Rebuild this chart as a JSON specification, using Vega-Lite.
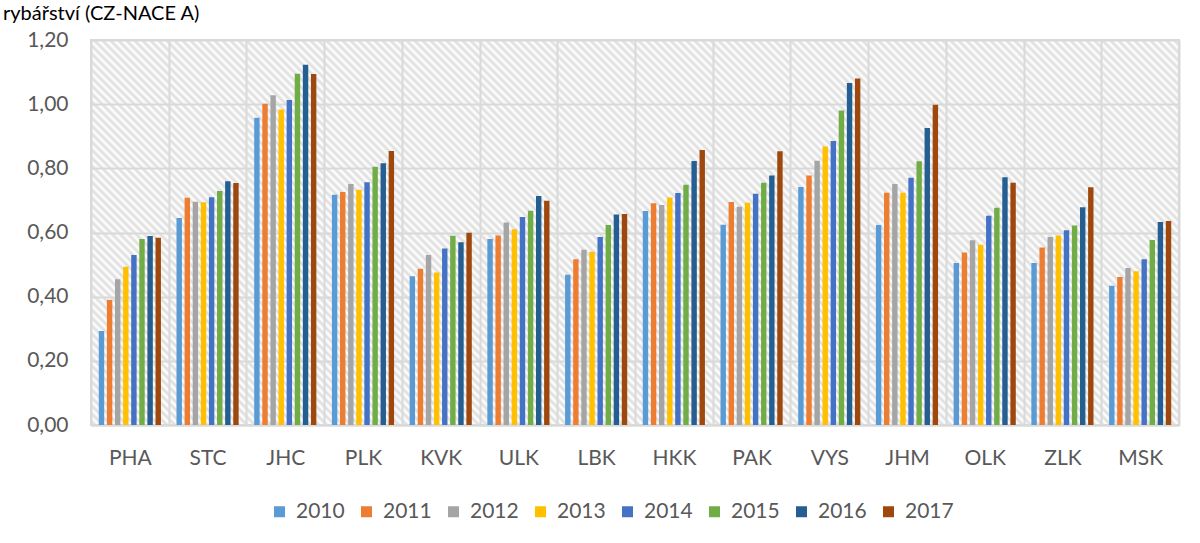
{
"$schema": "https://vega.github.io/schema/vega-lite/v6.json",
"width": 1088,
"height": 385,
"autosize": {"type": "none"},
"padding": {"left": 91, "top": 40, "right": 21, "bottom": 118},
"background": "white",
"title": {"text": "rybářství (CZ-NACE A)", "anchor": "start", "frame": "group", "orient": "top", "offset": -11, "dx": -88, "baseline": "alphabetic", "font": "Lato", "fontSize": 20, "fontWeight": "normal", "color": "#000000"},
"config": {
"locale": {"number": {"decimal": ",", "thousands": " ", "grouping": [3], "currency": ["", " Kč"]}},
"font": "Lato",
"view": {"stroke": "#d9d9d9", "strokeWidth": 2, "fill": {"gradient": "linear", "x1": 0, "y1": 1, "x2": 1.30694, "y2": 0.53753, "stops": [
{"offset":0,"color":"#fff"},{"offset":0.0025,"color":"#ddd"},{"offset":0.005,"color":"#fff"},{"offset":0.0075,"color":"#ddd"},
{"offset":0.01,"color":"#fff"},{"offset":0.0125,"color":"#ddd"},{"offset":0.015,"color":"#fff"},{"offset":0.0175,"color":"#ddd"},
{"offset":0.02,"color":"#fff"},{"offset":0.0225,"color":"#ddd"},{"offset":0.025,"color":"#fff"},{"offset":0.0275,"color":"#ddd"},
{"offset":0.03,"color":"#fff"},{"offset":0.0325,"color":"#ddd"},{"offset":0.035,"color":"#fff"},{"offset":0.0375,"color":"#ddd"},
{"offset":0.04,"color":"#fff"},{"offset":0.0425,"color":"#ddd"},{"offset":0.045,"color":"#fff"},{"offset":0.0475,"color":"#ddd"},
{"offset":0.05,"color":"#fff"},{"offset":0.0525,"color":"#ddd"},{"offset":0.055,"color":"#fff"},{"offset":0.0575,"color":"#ddd"},
{"offset":0.06,"color":"#fff"},{"offset":0.0625,"color":"#ddd"},{"offset":0.065,"color":"#fff"},{"offset":0.0675,"color":"#ddd"},
{"offset":0.07,"color":"#fff"},{"offset":0.0725,"color":"#ddd"},{"offset":0.075,"color":"#fff"},{"offset":0.0775,"color":"#ddd"},
{"offset":0.08,"color":"#fff"},{"offset":0.0825,"color":"#ddd"},{"offset":0.085,"color":"#fff"},{"offset":0.0875,"color":"#ddd"},
{"offset":0.09,"color":"#fff"},{"offset":0.0925,"color":"#ddd"},{"offset":0.095,"color":"#fff"},{"offset":0.0975,"color":"#ddd"},
{"offset":0.10,"color":"#fff"},{"offset":0.1025,"color":"#ddd"},{"offset":0.105,"color":"#fff"},{"offset":0.1075,"color":"#ddd"},
{"offset":0.11,"color":"#fff"},{"offset":0.1125,"color":"#ddd"},{"offset":0.115,"color":"#fff"},{"offset":0.1175,"color":"#ddd"},
{"offset":0.12,"color":"#fff"},{"offset":0.1225,"color":"#ddd"},{"offset":0.125,"color":"#fff"},{"offset":0.1275,"color":"#ddd"},
{"offset":0.13,"color":"#fff"},{"offset":0.1325,"color":"#ddd"},{"offset":0.135,"color":"#fff"},{"offset":0.1375,"color":"#ddd"},
{"offset":0.14,"color":"#fff"},{"offset":0.1425,"color":"#ddd"},{"offset":0.145,"color":"#fff"},{"offset":0.1475,"color":"#ddd"},
{"offset":0.15,"color":"#fff"},{"offset":0.1525,"color":"#ddd"},{"offset":0.155,"color":"#fff"},{"offset":0.1575,"color":"#ddd"},
{"offset":0.16,"color":"#fff"},{"offset":0.1625,"color":"#ddd"},{"offset":0.165,"color":"#fff"},{"offset":0.1675,"color":"#ddd"},
{"offset":0.17,"color":"#fff"},{"offset":0.1725,"color":"#ddd"},{"offset":0.175,"color":"#fff"},{"offset":0.1775,"color":"#ddd"},
{"offset":0.18,"color":"#fff"},{"offset":0.1825,"color":"#ddd"},{"offset":0.185,"color":"#fff"},{"offset":0.1875,"color":"#ddd"},
{"offset":0.19,"color":"#fff"},{"offset":0.1925,"color":"#ddd"},{"offset":0.195,"color":"#fff"},{"offset":0.1975,"color":"#ddd"},
{"offset":0.20,"color":"#fff"},{"offset":0.2025,"color":"#ddd"},{"offset":0.205,"color":"#fff"},{"offset":0.2075,"color":"#ddd"},
{"offset":0.21,"color":"#fff"},{"offset":0.2125,"color":"#ddd"},{"offset":0.215,"color":"#fff"},{"offset":0.2175,"color":"#ddd"},
{"offset":0.22,"color":"#fff"},{"offset":0.2225,"color":"#ddd"},{"offset":0.225,"color":"#fff"},{"offset":0.2275,"color":"#ddd"},
{"offset":0.23,"color":"#fff"},{"offset":0.2325,"color":"#ddd"},{"offset":0.235,"color":"#fff"},{"offset":0.2375,"color":"#ddd"},
{"offset":0.24,"color":"#fff"},{"offset":0.2425,"color":"#ddd"},{"offset":0.245,"color":"#fff"},{"offset":0.2475,"color":"#ddd"},
{"offset":0.25,"color":"#fff"},{"offset":0.2525,"color":"#ddd"},{"offset":0.255,"color":"#fff"},{"offset":0.2575,"color":"#ddd"},
{"offset":0.26,"color":"#fff"},{"offset":0.2625,"color":"#ddd"},{"offset":0.265,"color":"#fff"},{"offset":0.2675,"color":"#ddd"},
{"offset":0.27,"color":"#fff"},{"offset":0.2725,"color":"#ddd"},{"offset":0.275,"color":"#fff"},{"offset":0.2775,"color":"#ddd"},
{"offset":0.28,"color":"#fff"},{"offset":0.2825,"color":"#ddd"},{"offset":0.285,"color":"#fff"},{"offset":0.2875,"color":"#ddd"},
{"offset":0.29,"color":"#fff"},{"offset":0.2925,"color":"#ddd"},{"offset":0.295,"color":"#fff"},{"offset":0.2975,"color":"#ddd"},
{"offset":0.30,"color":"#fff"},{"offset":0.3025,"color":"#ddd"},{"offset":0.305,"color":"#fff"},{"offset":0.3075,"color":"#ddd"},
{"offset":0.31,"color":"#fff"},{"offset":0.3125,"color":"#ddd"},{"offset":0.315,"color":"#fff"},{"offset":0.3175,"color":"#ddd"},
{"offset":0.32,"color":"#fff"},{"offset":0.3225,"color":"#ddd"},{"offset":0.325,"color":"#fff"},{"offset":0.3275,"color":"#ddd"},
{"offset":0.33,"color":"#fff"},{"offset":0.3325,"color":"#ddd"},{"offset":0.335,"color":"#fff"},{"offset":0.3375,"color":"#ddd"},
{"offset":0.34,"color":"#fff"},{"offset":0.3425,"color":"#ddd"},{"offset":0.345,"color":"#fff"},{"offset":0.3475,"color":"#ddd"},
{"offset":0.35,"color":"#fff"},{"offset":0.3525,"color":"#ddd"},{"offset":0.355,"color":"#fff"},{"offset":0.3575,"color":"#ddd"},
{"offset":0.36,"color":"#fff"},{"offset":0.3625,"color":"#ddd"},{"offset":0.365,"color":"#fff"},{"offset":0.3675,"color":"#ddd"},
{"offset":0.37,"color":"#fff"},{"offset":0.3725,"color":"#ddd"},{"offset":0.375,"color":"#fff"},{"offset":0.3775,"color":"#ddd"},
{"offset":0.38,"color":"#fff"},{"offset":0.3825,"color":"#ddd"},{"offset":0.385,"color":"#fff"},{"offset":0.3875,"color":"#ddd"},
{"offset":0.39,"color":"#fff"},{"offset":0.3925,"color":"#ddd"},{"offset":0.395,"color":"#fff"},{"offset":0.3975,"color":"#ddd"},
{"offset":0.40,"color":"#fff"},{"offset":0.4025,"color":"#ddd"},{"offset":0.405,"color":"#fff"},{"offset":0.4075,"color":"#ddd"},
{"offset":0.41,"color":"#fff"},{"offset":0.4125,"color":"#ddd"},{"offset":0.415,"color":"#fff"},{"offset":0.4175,"color":"#ddd"},
{"offset":0.42,"color":"#fff"},{"offset":0.4225,"color":"#ddd"},{"offset":0.425,"color":"#fff"},{"offset":0.4275,"color":"#ddd"},
{"offset":0.43,"color":"#fff"},{"offset":0.4325,"color":"#ddd"},{"offset":0.435,"color":"#fff"},{"offset":0.4375,"color":"#ddd"},
{"offset":0.44,"color":"#fff"},{"offset":0.4425,"color":"#ddd"},{"offset":0.445,"color":"#fff"},{"offset":0.4475,"color":"#ddd"},
{"offset":0.45,"color":"#fff"},{"offset":0.4525,"color":"#ddd"},{"offset":0.455,"color":"#fff"},{"offset":0.4575,"color":"#ddd"},
{"offset":0.46,"color":"#fff"},{"offset":0.4625,"color":"#ddd"},{"offset":0.465,"color":"#fff"},{"offset":0.4675,"color":"#ddd"},
{"offset":0.47,"color":"#fff"},{"offset":0.4725,"color":"#ddd"},{"offset":0.475,"color":"#fff"},{"offset":0.4775,"color":"#ddd"},
{"offset":0.48,"color":"#fff"},{"offset":0.4825,"color":"#ddd"},{"offset":0.485,"color":"#fff"},{"offset":0.4875,"color":"#ddd"},
{"offset":0.49,"color":"#fff"},{"offset":0.4925,"color":"#ddd"},{"offset":0.495,"color":"#fff"},{"offset":0.4975,"color":"#ddd"},
{"offset":0.50,"color":"#fff"},{"offset":0.5025,"color":"#ddd"},{"offset":0.505,"color":"#fff"},{"offset":0.5075,"color":"#ddd"},
{"offset":0.51,"color":"#fff"},{"offset":0.5125,"color":"#ddd"},{"offset":0.515,"color":"#fff"},{"offset":0.5175,"color":"#ddd"},
{"offset":0.52,"color":"#fff"},{"offset":0.5225,"color":"#ddd"},{"offset":0.525,"color":"#fff"},{"offset":0.5275,"color":"#ddd"},
{"offset":0.53,"color":"#fff"},{"offset":0.5325,"color":"#ddd"},{"offset":0.535,"color":"#fff"},{"offset":0.5375,"color":"#ddd"},
{"offset":0.54,"color":"#fff"},{"offset":0.5425,"color":"#ddd"},{"offset":0.545,"color":"#fff"},{"offset":0.5475,"color":"#ddd"},
{"offset":0.55,"color":"#fff"},{"offset":0.5525,"color":"#ddd"},{"offset":0.555,"color":"#fff"},{"offset":0.5575,"color":"#ddd"},
{"offset":0.56,"color":"#fff"},{"offset":0.5625,"color":"#ddd"},{"offset":0.565,"color":"#fff"},{"offset":0.5675,"color":"#ddd"},
{"offset":0.57,"color":"#fff"},{"offset":0.5725,"color":"#ddd"},{"offset":0.575,"color":"#fff"},{"offset":0.5775,"color":"#ddd"},
{"offset":0.58,"color":"#fff"},{"offset":0.5825,"color":"#ddd"},{"offset":0.585,"color":"#fff"},{"offset":0.5875,"color":"#ddd"},
{"offset":0.59,"color":"#fff"},{"offset":0.5925,"color":"#ddd"},{"offset":0.595,"color":"#fff"},{"offset":0.5975,"color":"#ddd"},
{"offset":0.60,"color":"#fff"},{"offset":0.6025,"color":"#ddd"},{"offset":0.605,"color":"#fff"},{"offset":0.6075,"color":"#ddd"},
{"offset":0.61,"color":"#fff"},{"offset":0.6125,"color":"#ddd"},{"offset":0.615,"color":"#fff"},{"offset":0.6175,"color":"#ddd"},
{"offset":0.62,"color":"#fff"},{"offset":0.6225,"color":"#ddd"},{"offset":0.625,"color":"#fff"},{"offset":0.6275,"color":"#ddd"},
{"offset":0.63,"color":"#fff"},{"offset":0.6325,"color":"#ddd"},{"offset":0.635,"color":"#fff"},{"offset":0.6375,"color":"#ddd"},
{"offset":0.64,"color":"#fff"},{"offset":0.6425,"color":"#ddd"},{"offset":0.645,"color":"#fff"},{"offset":0.6475,"color":"#ddd"},
{"offset":0.65,"color":"#fff"},{"offset":0.6525,"color":"#ddd"},{"offset":0.655,"color":"#fff"},{"offset":0.6575,"color":"#ddd"},
{"offset":0.66,"color":"#fff"},{"offset":0.6625,"color":"#ddd"},{"offset":0.665,"color":"#fff"},{"offset":0.6675,"color":"#ddd"},
{"offset":0.67,"color":"#fff"},{"offset":0.6725,"color":"#ddd"},{"offset":0.675,"color":"#fff"},{"offset":0.6775,"color":"#ddd"},
{"offset":0.68,"color":"#fff"},{"offset":0.6825,"color":"#ddd"},{"offset":0.685,"color":"#fff"},{"offset":0.6875,"color":"#ddd"},
{"offset":0.69,"color":"#fff"},{"offset":0.6925,"color":"#ddd"},{"offset":0.695,"color":"#fff"},{"offset":0.6975,"color":"#ddd"},
{"offset":0.70,"color":"#fff"},{"offset":0.7025,"color":"#ddd"},{"offset":0.705,"color":"#fff"},{"offset":0.7075,"color":"#ddd"},
{"offset":0.71,"color":"#fff"},{"offset":0.7125,"color":"#ddd"},{"offset":0.715,"color":"#fff"},{"offset":0.7175,"color":"#ddd"},
{"offset":0.72,"color":"#fff"},{"offset":0.7225,"color":"#ddd"},{"offset":0.725,"color":"#fff"},{"offset":0.7275,"color":"#ddd"},
{"offset":0.73,"color":"#fff"},{"offset":0.7325,"color":"#ddd"},{"offset":0.735,"color":"#fff"},{"offset":0.7375,"color":"#ddd"},
{"offset":0.74,"color":"#fff"},{"offset":0.7425,"color":"#ddd"},{"offset":0.745,"color":"#fff"},{"offset":0.7475,"color":"#ddd"},
{"offset":0.75,"color":"#fff"},{"offset":0.7525,"color":"#ddd"},{"offset":0.755,"color":"#fff"},{"offset":0.7575,"color":"#ddd"},
{"offset":0.76,"color":"#fff"},{"offset":0.7625,"color":"#ddd"},{"offset":0.765,"color":"#fff"},{"offset":0.7675,"color":"#ddd"},
{"offset":0.77,"color":"#fff"},{"offset":0.7725,"color":"#ddd"},{"offset":0.775,"color":"#fff"},{"offset":0.7775,"color":"#ddd"},
{"offset":0.78,"color":"#fff"},{"offset":0.7825,"color":"#ddd"},{"offset":0.785,"color":"#fff"},{"offset":0.7875,"color":"#ddd"},
{"offset":0.79,"color":"#fff"},{"offset":0.7925,"color":"#ddd"},{"offset":0.795,"color":"#fff"},{"offset":0.7975,"color":"#ddd"},
{"offset":0.80,"color":"#fff"},{"offset":0.8025,"color":"#ddd"},{"offset":0.805,"color":"#fff"},{"offset":0.8075,"color":"#ddd"},
{"offset":0.81,"color":"#fff"},{"offset":0.8125,"color":"#ddd"},{"offset":0.815,"color":"#fff"},{"offset":0.8175,"color":"#ddd"},
{"offset":0.82,"color":"#fff"},{"offset":0.8225,"color":"#ddd"},{"offset":0.825,"color":"#fff"},{"offset":0.8275,"color":"#ddd"},
{"offset":0.83,"color":"#fff"},{"offset":0.8325,"color":"#ddd"},{"offset":0.835,"color":"#fff"},{"offset":0.8375,"color":"#ddd"},
{"offset":0.84,"color":"#fff"},{"offset":0.8425,"color":"#ddd"},{"offset":0.845,"color":"#fff"},{"offset":0.8475,"color":"#ddd"},
{"offset":0.85,"color":"#fff"},{"offset":0.8525,"color":"#ddd"},{"offset":0.855,"color":"#fff"},{"offset":0.8575,"color":"#ddd"},
{"offset":0.86,"color":"#fff"},{"offset":0.8625,"color":"#ddd"},{"offset":0.865,"color":"#fff"},{"offset":0.8675,"color":"#ddd"},
{"offset":0.87,"color":"#fff"},{"offset":0.8725,"color":"#ddd"},{"offset":0.875,"color":"#fff"},{"offset":0.8775,"color":"#ddd"},
{"offset":0.88,"color":"#fff"},{"offset":0.8825,"color":"#ddd"},{"offset":0.885,"color":"#fff"},{"offset":0.8875,"color":"#ddd"},
{"offset":0.89,"color":"#fff"},{"offset":0.8925,"color":"#ddd"},{"offset":0.895,"color":"#fff"},{"offset":0.8975,"color":"#ddd"},
{"offset":0.90,"color":"#fff"},{"offset":0.9025,"color":"#ddd"},{"offset":0.905,"color":"#fff"},{"offset":0.9075,"color":"#ddd"},
{"offset":0.91,"color":"#fff"},{"offset":0.9125,"color":"#ddd"},{"offset":0.915,"color":"#fff"},{"offset":0.9175,"color":"#ddd"},
{"offset":0.92,"color":"#fff"},{"offset":0.9225,"color":"#ddd"},{"offset":0.925,"color":"#fff"},{"offset":0.9275,"color":"#ddd"},
{"offset":0.93,"color":"#fff"},{"offset":0.9325,"color":"#ddd"},{"offset":0.935,"color":"#fff"},{"offset":0.9375,"color":"#ddd"},
{"offset":0.94,"color":"#fff"},{"offset":0.9425,"color":"#ddd"},{"offset":0.945,"color":"#fff"},{"offset":0.9475,"color":"#ddd"},
{"offset":0.95,"color":"#fff"},{"offset":0.9525,"color":"#ddd"},{"offset":0.955,"color":"#fff"},{"offset":0.9575,"color":"#ddd"},
{"offset":0.96,"color":"#fff"},{"offset":0.9625,"color":"#ddd"},{"offset":0.965,"color":"#fff"},{"offset":0.9675,"color":"#ddd"},
{"offset":0.97,"color":"#fff"},{"offset":0.9725,"color":"#ddd"},{"offset":0.975,"color":"#fff"},{"offset":0.9775,"color":"#ddd"},
{"offset":0.98,"color":"#fff"},{"offset":0.9825,"color":"#ddd"},{"offset":0.985,"color":"#fff"},{"offset":0.9875,"color":"#ddd"},
{"offset":0.99,"color":"#fff"},{"offset":0.9925,"color":"#ddd"},{"offset":0.995,"color":"#fff"},{"offset":0.9975,"color":"#ddd"},
{"offset":1,"color":"#fff"}
]}}
},
"data": {"values": [
{"kraj":"PHA","rok":"2010","hodnota":0.293},{"kraj":"PHA","rok":"2011","hodnota":0.390},{"kraj":"PHA","rok":"2012","hodnota":0.454},{"kraj":"PHA","rok":"2013","hodnota":0.493},{"kraj":"PHA","rok":"2014","hodnota":0.530},{"kraj":"PHA","rok":"2015","hodnota":0.580},{"kraj":"PHA","rok":"2016","hodnota":0.589},{"kraj":"PHA","rok":"2017","hodnota":0.584},
{"kraj":"STC","rok":"2010","hodnota":0.645},{"kraj":"STC","rok":"2011","hodnota":0.708},{"kraj":"STC","rok":"2012","hodnota":0.696},{"kraj":"STC","rok":"2013","hodnota":0.694},{"kraj":"STC","rok":"2014","hodnota":0.710},{"kraj":"STC","rok":"2015","hodnota":0.729},{"kraj":"STC","rok":"2016","hodnota":0.760},{"kraj":"STC","rok":"2017","hodnota":0.754},
{"kraj":"JHC","rok":"2010","hodnota":0.958},{"kraj":"JHC","rok":"2011","hodnota":1.001},{"kraj":"JHC","rok":"2012","hodnota":1.028},{"kraj":"JHC","rok":"2013","hodnota":0.983},{"kraj":"JHC","rok":"2014","hodnota":1.013},{"kraj":"JHC","rok":"2015","hodnota":1.095},{"kraj":"JHC","rok":"2016","hodnota":1.123},{"kraj":"JHC","rok":"2017","hodnota":1.094},
{"kraj":"PLK","rok":"2010","hodnota":0.718},{"kraj":"PLK","rok":"2011","hodnota":0.726},{"kraj":"PLK","rok":"2012","hodnota":0.751},{"kraj":"PLK","rok":"2013","hodnota":0.733},{"kraj":"PLK","rok":"2014","hodnota":0.757},{"kraj":"PLK","rok":"2015","hodnota":0.805},{"kraj":"PLK","rok":"2016","hodnota":0.816},{"kraj":"PLK","rok":"2017","hodnota":0.854},
{"kraj":"KVK","rok":"2010","hodnota":0.464},{"kraj":"KVK","rok":"2011","hodnota":0.487},{"kraj":"KVK","rok":"2012","hodnota":0.530},{"kraj":"KVK","rok":"2013","hodnota":0.475},{"kraj":"KVK","rok":"2014","hodnota":0.550},{"kraj":"KVK","rok":"2015","hodnota":0.590},{"kraj":"KVK","rok":"2016","hodnota":0.570},{"kraj":"KVK","rok":"2017","hodnota":0.599},
{"kraj":"ULK","rok":"2010","hodnota":0.580},{"kraj":"ULK","rok":"2011","hodnota":0.591},{"kraj":"ULK","rok":"2012","hodnota":0.631},{"kraj":"ULK","rok":"2013","hodnota":0.610},{"kraj":"ULK","rok":"2014","hodnota":0.648},{"kraj":"ULK","rok":"2015","hodnota":0.668},{"kraj":"ULK","rok":"2016","hodnota":0.714},{"kraj":"ULK","rok":"2017","hodnota":0.699},
{"kraj":"LBK","rok":"2010","hodnota":0.468},{"kraj":"LBK","rok":"2011","hodnota":0.517},{"kraj":"LBK","rok":"2012","hodnota":0.546},{"kraj":"LBK","rok":"2013","hodnota":0.540},{"kraj":"LBK","rok":"2014","hodnota":0.586},{"kraj":"LBK","rok":"2015","hodnota":0.623},{"kraj":"LBK","rok":"2016","hodnota":0.656},{"kraj":"LBK","rok":"2017","hodnota":0.658},
{"kraj":"HKK","rok":"2010","hodnota":0.667},{"kraj":"HKK","rok":"2011","hodnota":0.691},{"kraj":"HKK","rok":"2012","hodnota":0.686},{"kraj":"HKK","rok":"2013","hodnota":0.709},{"kraj":"HKK","rok":"2014","hodnota":0.723},{"kraj":"HKK","rok":"2015","hodnota":0.749},{"kraj":"HKK","rok":"2016","hodnota":0.823},{"kraj":"HKK","rok":"2017","hodnota":0.857},
{"kraj":"PAK","rok":"2010","hodnota":0.624},{"kraj":"PAK","rok":"2011","hodnota":0.695},{"kraj":"PAK","rok":"2012","hodnota":0.680},{"kraj":"PAK","rok":"2013","hodnota":0.693},{"kraj":"PAK","rok":"2014","hodnota":0.721},{"kraj":"PAK","rok":"2015","hodnota":0.755},{"kraj":"PAK","rok":"2016","hodnota":0.778},{"kraj":"PAK","rok":"2017","hodnota":0.853},
{"kraj":"VYS","rok":"2010","hodnota":0.742},{"kraj":"VYS","rok":"2011","hodnota":0.778},{"kraj":"VYS","rok":"2012","hodnota":0.824},{"kraj":"VYS","rok":"2013","hodnota":0.868},{"kraj":"VYS","rok":"2014","hodnota":0.885},{"kraj":"VYS","rok":"2015","hodnota":0.980},{"kraj":"VYS","rok":"2016","hodnota":1.066},{"kraj":"VYS","rok":"2017","hodnota":1.080},
{"kraj":"JHM","rok":"2010","hodnota":0.623},{"kraj":"JHM","rok":"2011","hodnota":0.724},{"kraj":"JHM","rok":"2012","hodnota":0.751},{"kraj":"JHM","rok":"2013","hodnota":0.724},{"kraj":"JHM","rok":"2014","hodnota":0.771},{"kraj":"JHM","rok":"2015","hodnota":0.822},{"kraj":"JHM","rok":"2016","hodnota":0.926},{"kraj":"JHM","rok":"2017","hodnota":0.998},
{"kraj":"OLK","rok":"2010","hodnota":0.505},{"kraj":"OLK","rok":"2011","hodnota":0.538},{"kraj":"OLK","rok":"2012","hodnota":0.576},{"kraj":"OLK","rok":"2013","hodnota":0.562},{"kraj":"OLK","rok":"2014","hodnota":0.652},{"kraj":"OLK","rok":"2015","hodnota":0.677},{"kraj":"OLK","rok":"2016","hodnota":0.772},{"kraj":"OLK","rok":"2017","hodnota":0.755},
{"kraj":"ZLK","rok":"2010","hodnota":0.505},{"kraj":"ZLK","rok":"2011","hodnota":0.553},{"kraj":"ZLK","rok":"2012","hodnota":0.586},{"kraj":"ZLK","rok":"2013","hodnota":0.591},{"kraj":"ZLK","rok":"2014","hodnota":0.607},{"kraj":"ZLK","rok":"2015","hodnota":0.622},{"kraj":"ZLK","rok":"2016","hodnota":0.679},{"kraj":"ZLK","rok":"2017","hodnota":0.741},
{"kraj":"MSK","rok":"2010","hodnota":0.434},{"kraj":"MSK","rok":"2011","hodnota":0.461},{"kraj":"MSK","rok":"2012","hodnota":0.489},{"kraj":"MSK","rok":"2013","hodnota":0.479},{"kraj":"MSK","rok":"2014","hodnota":0.517},{"kraj":"MSK","rok":"2015","hodnota":0.577},{"kraj":"MSK","rok":"2016","hodnota":0.633},{"kraj":"MSK","rok":"2017","hodnota":0.636}
]},
"mark": {"type": "bar"},
"encoding": {
"x": {"field": "kraj", "type": "nominal", "sort": null, "scale": {"paddingInner": 0, "paddingOuter": 0},
 "axis": {"title": null, "labelAngle": 0, "ticks": false, "labelPadding": 22, "labelFont": "Lato", "labelFontSize": 21, "labelColor": "#595959", "domainColor": "#d9d9d9", "domainWidth": 2, "grid": true, "tickBand": "extent", "gridColor": "#d9d9d9", "gridWidth": 2}},
"xOffset": {"field": "rok", "type": "nominal", "scale": {"paddingInner": 0.333, "paddingOuter": 0.96}},
"y": {"field": "hodnota", "type": "quantitative", "scale": {"domain": [0, 1.2], "nice": false},
 "axis": {"title": null, "values": [0, 0.2, 0.4, 0.6, 0.8, 1, 1.2], "format": ".2f", "domain": false, "ticks": false, "labelPadding": 23, "labelFont": "Lato", "labelFontSize": 21, "labelColor": "#595959", "gridColor": "#d9d9d9", "gridWidth": 2}},
"color": {"field": "rok", "type": "nominal",
 "scale": {"range": ["#5B9BD5", "#ED7D31", "#A5A5A5", "#FFC000", "#4472C4", "#70AD47", "#255E91", "#9E480E"]},
 "legend": {"title": null, "orient": "none", "legendX": 178, "legendY": 461, "direction": "horizontal", "symbolType": "square", "symbolSize": 121, "symbolStrokeWidth": 0, "labelFont": "Lato", "labelFontSize": 21, "labelColor": "#595959", "labelOffset": 6, "columnPadding": 11}}
}
}
